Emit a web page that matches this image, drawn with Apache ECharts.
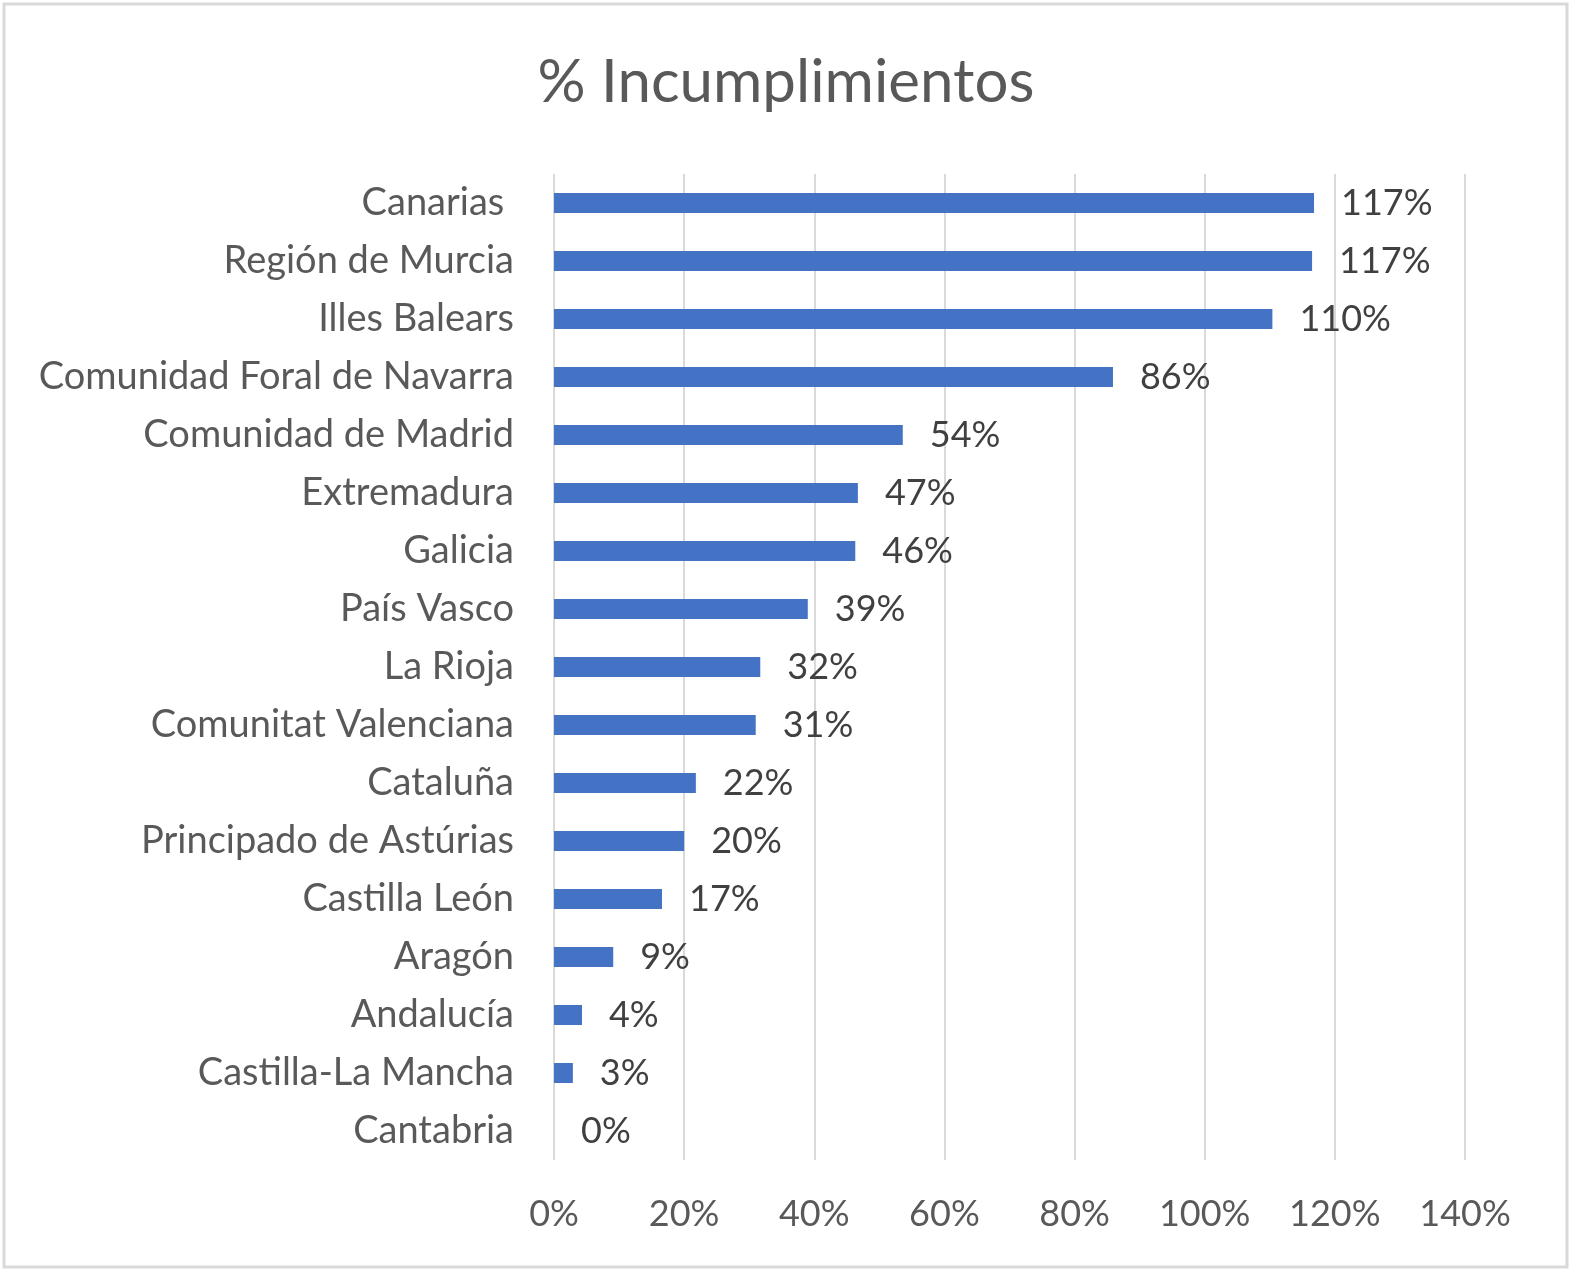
<!DOCTYPE html>
<html>
<head>
<meta charset="utf-8">
<script src="https://cdn.jsdelivr.net/npm/echarts@6/dist/echarts.min.js"></script>
<style>
    html, body { margin: 0; padding: 0; background: #ffffff; }
    #chart { width: 1572px; height: 1274px; }
</style>
</head>
<body>
<div id="chart"></div>
<script>
const regiones = [
    'Canarias ', 'Región de Murcia', 'Illes Balears', 'Comunidad Foral de Navarra',
    'Comunidad de Madrid', 'Extremadura', 'Galicia', 'País Vasco', 'La Rioja',
    'Comunitat Valenciana', 'Cataluña', 'Principado de Astúrias', 'Castilla León',
    'Aragón', 'Andalucía', 'Castilla-La Mancha', 'Cantabria'
];
const incumplimientos = [116.8, 116.5, 110.4, 85.9, 53.6, 46.7, 46.3, 39.0, 31.7,
    31.0, 21.8, 20.0, 16.6, 9.1, 4.3, 2.9, 0];
const ejeMin = 0;
const ejeMax = 140;
const ejePaso = 20;

document.addEventListener('DOMContentLoaded', function () {
    const chart = echarts.init(document.getElementById('chart'));
    const fuente = 'Lato';

    const option = {
        animation: false,
        backgroundColor: '#ffffff',
        title: {
            text: '% Incumplimientos',
            left: 'center',
            top: 48,
            textStyle: {
                color: '#595959',
                fontFamily: fuente,
                fontSize: 60,
                fontWeight: 'normal'
            }
        },
        graphic: [{
            type: 'rect',
            shape: { x: 4, y: 4, width: 1563, height: 1263 },
            style: { fill: 'none', stroke: '#d9d9d9', lineWidth: 3 },
            silent: true
        }],
        grid: {
            left: 554,
            right: 107,
            top: 174,
            bottom: 114
        },
        xAxis: {
            type: 'value',
            min: ejeMin,
            max: ejeMax,
            interval: ejePaso,
            axisLine: { show: false },
            axisTick: { show: false },
            splitLine: { lineStyle: { color: '#d9d9d9', width: 2 } },
            axisLabel: {
                margin: 36,
                color: '#595959',
                fontFamily: fuente,
                fontSize: 36,
                formatter: '{value}%'
            }
        },
        yAxis: {
            type: 'category',
            inverse: true,
            data: regiones,
            axisLine: { show: false },
            axisTick: { show: false },
            axisLabel: {
                margin: 40,
                color: '#595959',
                fontFamily: fuente,
                fontSize: 38
            }
        },
        series: [{
            type: 'bar',
            data: incumplimientos,
            barWidth: 20,
            itemStyle: { color: '#4472C4' },
            label: {
                show: true,
                position: 'right',
                distance: 27,
                color: '#404040',
                fontFamily: fuente,
                fontSize: 36,
                formatter: function (p) {
                    return Math.round(p.value) + '%';
                }
            }
        }]
    };

    chart.setOption(option);

    window.addEventListener('resize', function () {
        chart.resize();
    });
});
</script>
</body>
</html>
